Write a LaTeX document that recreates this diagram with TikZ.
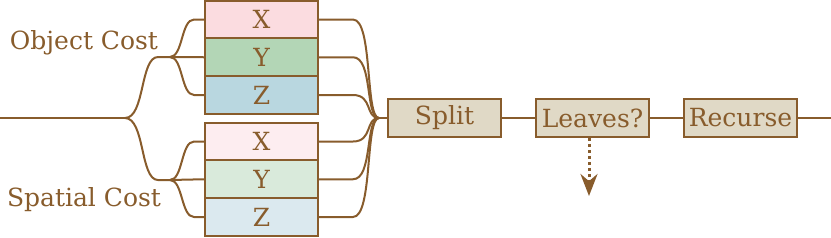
\documentclass[tikz,border=0pt]{standalone}
\usepackage{fontspec}
\setmainfont{DejaVu Serif}
\usetikzlibrary{arrows.meta}
\definecolor{bark}{RGB}{136,92,44}
\definecolor{xfill}{RGB}{251,220,224}
\definecolor{yfill}{RGB}{179,214,182}
\definecolor{zfill}{RGB}{185,215,224}
\definecolor{xlight}{RGB}{253,237,240}
\definecolor{ylight}{RGB}{217,234,219}
\definecolor{zlight}{RGB}{219,233,239}
\definecolor{stagefill}{RGB}{224,217,198}
\tikzset{
 cost box/.style={draw=bark,line width=1pt,minimum width=56.5pt,minimum height=18.9pt,
                  inner sep=1pt,text=bark,font=\fontsize{12.5}{15}\selectfont},
 stage box/.style={cost box,fill=stagefill},
 cost label/.style={text=bark,font=\fontsize{12.5}{15}\selectfont},
 flow/.style={draw=bark,line width=1pt},
 drop flow/.style={draw=bark,line width=1.5pt,dash pattern=on 1.5pt off 1.5pt,
                   -{Stealth[length=11pt,width=8.5pt]}}
}
\begin{document}
\begin{tikzpicture}[x=0.5pt,y=-0.5pt]
 \useasboundingbox (0,0) rectangle (831,237);
 \coordinate (in) at (0,118);
 \coordinate (root) at (125,118);
 \coordinate (ofork) at (170,57);
 \coordinate (sfork) at (170,180);
 \coordinate (merge) at (379,118);
 \coordinate (out) at (831,118);
 \coordinate (drop) at (589,196);

 \node[cost box,fill=xfill] (ox) at (261.5,19.5) {X};
 \node[cost box,fill=yfill] (oy) at (261.5,57.25) {Y};
 \node[cost box,fill=zfill] (oz) at (261.5,95) {Z};
 \node[cost box,fill=xlight] (sx) at (261.5,141.5) {X};
 \node[cost box,fill=ylight] (sy) at (261.5,179.25) {Y};
 \node[cost box,fill=zlight] (sz) at (261.5,217) {Z};
 \node[cost label] (olabel) at (84,43) {Object Cost};
 \node[cost label] (slabel) at (84,200) {Spatial Cost};

 \node[stage box] (split) at (444.5,118) {Split};
 \node[stage box] (leaves) at (592.5,118) {Leaves?};
 \node[stage box] (recurse) at (740.5,118) {Recurse};

 % fan out into the two cost groups
 \draw[flow] (in) -- (root);
 \draw[flow] (root) .. controls +(20,0) and +(-18,0) .. (158,57) -- (ofork);
 \draw[flow] (root) .. controls +(20,0) and +(-18,0) .. (158,180) -- (sfork);
 \foreach \f/\g in {ofork/o,sfork/s} {
  \draw[flow] (\f) .. controls +(13,0) and +(-13,0) .. ([xshift=-5pt]\g x.west) -- (\g x.west);
  \draw[flow] (\f) -- (\g y.west);
  \draw[flow] (\f) .. controls +(13,0) and +(-13,0) .. ([xshift=-5pt]\g z.west) -- (\g z.west);
 }

 % gather into split
 \foreach \r in {ox,oy,oz,sx,sy,sz}
  \draw[flow] (\r.east) -- ++(34,0) .. controls +(20,0) and +(-14,0) .. (merge);
 \draw[flow] (merge) -- (split.west);
 \draw[flow] (split.east) -- (leaves.west);
 \draw[flow] (leaves.east) -- (recurse.west);
 \draw[flow] (recurse.east) -- (out);
 \draw[drop flow] (leaves.south -| drop) -- (drop);
\end{tikzpicture}
\end{document}
